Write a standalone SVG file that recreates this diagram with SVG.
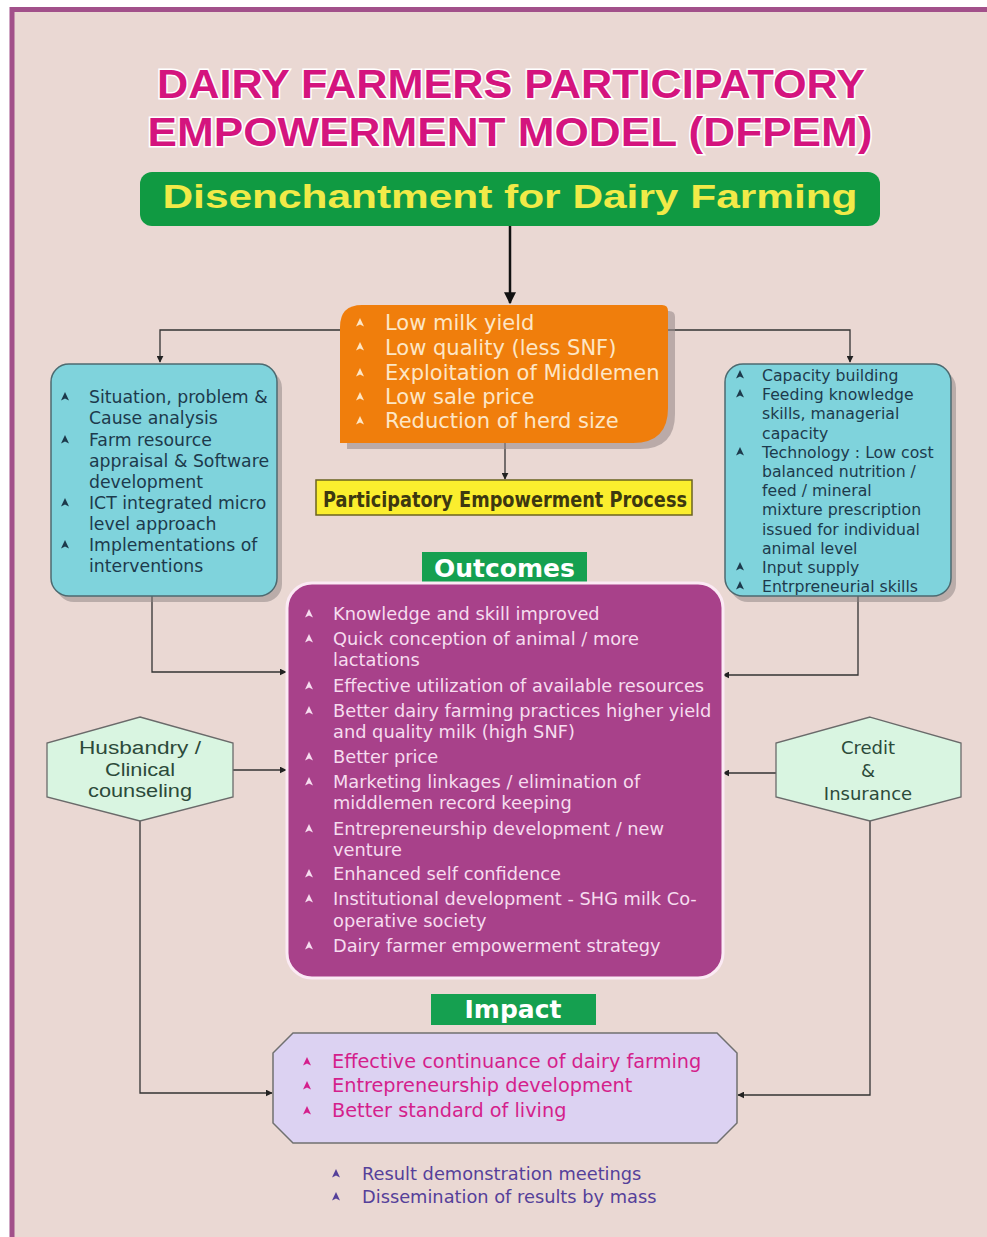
<svg xmlns="http://www.w3.org/2000/svg" xmlns:xlink="http://www.w3.org/1999/xlink" width="987" height="1237" viewBox="0 0 987 1237">
<defs>
<style>
.t{font-family:"DejaVu Sans","Liberation Sans",sans-serif}
.title{font-family:"Liberation Sans",Arial,sans-serif;font-weight:bold;font-size:41px;fill:#d4147e;stroke:#fff;stroke-width:3;paint-order:stroke;text-anchor:middle}
.or{font-size:21px;fill:#fde6c6}
.cl{font-size:17.3px;fill:#1d3a4c}
.cr{font-size:15.7px;fill:#1d3a4c}
.pu{font-size:17.8px;fill:#f6dcef}
.im{font-size:19.3px;fill:#d41f8c}
.bt{font-size:17.8px;fill:#55409a}
.hx{font-size:18px;fill:#2c4a3a;text-anchor:middle}
.lab{font-weight:bold;font-size:25px;fill:#fff;text-anchor:middle}
.con{fill:none;stroke:#333;stroke-width:1.3}
</style>
<path id="bul" d="M0,-5 L4,3.4 L0,1.6 L-4,3.4 Z"/>
<marker id="ah" viewBox="0 0 10 10" refX="9" refY="5" markerWidth="7" markerHeight="7" orient="auto" markerUnits="userSpaceOnUse"><path d="M0,0 L10,5 L0,10 Z" fill="#222"/></marker>
<marker id="ahb" viewBox="0 0 10 10" refX="9" refY="5" markerWidth="12" markerHeight="12" orient="auto" markerUnits="userSpaceOnUse"><path d="M0,0 L10,5 L0,10 Z" fill="#111"/></marker>
</defs>
<rect width="987" height="1237" fill="#fff"/>
<rect x="12" y="9.5" width="1000" height="1250" fill="#ead8d3" stroke="#a2508a" stroke-width="5"/>

<g id="title">
<text class="title" x="511" y="98" textLength="708" lengthAdjust="spacingAndGlyphs">DAIRY FARMERS PARTICIPATORY</text>
<text class="title" x="510" y="146" textLength="725" lengthAdjust="spacingAndGlyphs">EMPOWERMENT MODEL (DFPEM)</text>
</g>

<g id="connectors">
<line x1="510" y1="226" x2="510" y2="303" stroke="#111" stroke-width="2.5" marker-end="url(#ahb)"/>
<polyline class="con" points="341,330 160,330 160,362" marker-end="url(#ah)"/>
<polyline class="con" points="668,330 850,330 850,362" marker-end="url(#ah)"/>
<line class="con" x1="505" y1="443" x2="505" y2="479" marker-end="url(#ah)"/>
<polyline class="con" points="152,596 152,672 286,672" marker-end="url(#ah)"/>
<polyline class="con" points="858,596 858,675 723,675" marker-end="url(#ah)"/>
<line class="con" x1="233" y1="770" x2="286" y2="770" marker-end="url(#ah)"/>
<line class="con" x1="776" y1="773" x2="723" y2="773" marker-end="url(#ah)"/>
<polyline class="con" points="140,820 140,1093 272,1093" marker-end="url(#ah)"/>
<polyline class="con" points="870,820 870,1095 738,1095" marker-end="url(#ah)"/>
</g>

<g id="disenchantment">
<rect x="140" y="172" width="740" height="54" rx="12" fill="#109a42"/>
<text x="510" y="208" font-family="Liberation Sans,Arial,sans-serif" font-weight="bold" font-size="34" fill="#f1ea48" text-anchor="middle" textLength="695" lengthAdjust="spacingAndGlyphs">Disenchantment for Dairy Farming</text>
</g>

<g id="problems" class="t">
<path d="M347,449 L347,333 Q347,311 369,311 L669,311 Q675,311 675,317 L675,414 Q675,449 640,449 Z" fill="#9a8c8c" opacity="0.6"/>
<path d="M340,443 L340,327 Q340,305 362,305 L662,305 Q668,305 668,311 L668,408 Q668,443 633,443 Z" fill="#f07e0c"/>
<g fill="#fde6c6"><use href="#bul" x="360" y="323"/><use href="#bul" x="360" y="347"/><use href="#bul" x="360" y="373"/><use href="#bul" x="360" y="397"/><use href="#bul" x="360" y="421"/></g>
<text class="or" x="385" y="330">Low milk yield</text>
<text class="or" x="385" y="355">Low quality (less SNF)</text>
<text class="or" x="385" y="380">Exploitation of Middlemen</text>
<text class="or" x="385" y="404">Low sale price</text>
<text class="or" x="385" y="428">Reduction of herd size</text>
</g>

<g id="process">
<rect x="316" y="480" width="376" height="35" fill="#fbee2e" stroke="#6b6320" stroke-width="1.5"/>
<text x="505" y="507" font-family="DejaVu Sans Condensed,Liberation Sans,sans-serif" font-weight="bold" font-size="22" fill="#3d3810" text-anchor="middle" textLength="364" lengthAdjust="spacingAndGlyphs">Participatory Empowerment Process</text>
</g>

<g id="left-box" class="t">
<rect x="56" y="370" width="226" height="232" rx="18" fill="#8a8080" opacity="0.5"/>
<rect x="51" y="364" width="226" height="232" rx="18" fill="#7fd3dc" stroke="#4d6a70" stroke-width="1.5"/>
<g fill="#1d3a4c"><use href="#bul" x="65" y="397"/><use href="#bul" x="65" y="440"/><use href="#bul" x="65" y="503"/><use href="#bul" x="65" y="545"/></g>
<text class="cl" x="89" y="403">Situation, problem &amp;</text>
<text class="cl" x="89" y="424">Cause analysis</text>
<text class="cl" x="89" y="446">Farm resource</text>
<text class="cl" x="89" y="467">appraisal &amp; Software</text>
<text class="cl" x="89" y="488">development</text>
<text class="cl" x="89" y="509">ICT integrated micro</text>
<text class="cl" x="89" y="530">level approach</text>
<text class="cl" x="89" y="551">Implementations of</text>
<text class="cl" x="89" y="572">interventions</text>
</g>

<g id="right-box" class="t">
<rect x="730" y="370" width="226" height="232" rx="18" fill="#8a8080" opacity="0.5"/>
<rect x="725" y="364" width="226" height="232" rx="18" fill="#7fd3dc" stroke="#4d6a70" stroke-width="1.5"/>
<g fill="#1d3a4c"><use href="#bul" x="740" y="375"/><use href="#bul" x="740" y="394"/><use href="#bul" x="740" y="452"/><use href="#bul" x="740" y="567"/><use href="#bul" x="740" y="586"/></g>
<text class="cr" x="762" y="381">Capacity building</text>
<text class="cr" x="762" y="400.2">Feeding knowledge</text>
<text class="cr" x="762" y="419.4">skills, managerial</text>
<text class="cr" x="762" y="438.6">capacity</text>
<text class="cr" x="762" y="457.8">Technology : Low cost</text>
<text class="cr" x="762" y="477">balanced nutrition /</text>
<text class="cr" x="762" y="496.2">feed / mineral</text>
<text class="cr" x="762" y="515.4">mixture prescription</text>
<text class="cr" x="762" y="534.6">issued for individual</text>
<text class="cr" x="762" y="553.8">animal level</text>
<text class="cr" x="762" y="573">Input supply</text>
<text class="cr" x="762" y="592.2">Entrpreneurial skills</text>
</g>

<g id="outcomes-label" class="t">
<rect x="422" y="552" width="165" height="30" fill="#15a050"/>
<text class="lab" x="504.5" y="577">Outcomes</text>
</g>

<g id="outcomes" class="t">
<rect x="287" y="583" width="436" height="395" rx="25" fill="#a8418a" stroke="#fbeaf4" stroke-width="3"/>
<g fill="#f6dcef"><use href="#bul" x="309" y="614"/><use href="#bul" x="309" y="639"/><use href="#bul" x="309" y="686"/><use href="#bul" x="309" y="711"/><use href="#bul" x="309" y="757"/><use href="#bul" x="309" y="782"/><use href="#bul" x="309" y="829"/><use href="#bul" x="309" y="874"/><use href="#bul" x="309" y="899"/><use href="#bul" x="309" y="946"/></g>
<text class="pu" x="333" y="620">Knowledge and skill improved</text>
<text class="pu" x="333" y="645">Quick conception of animal / more</text>
<text class="pu" x="333" y="666">lactations</text>
<text class="pu" x="333" y="692">Effective utilization of available resources</text>
<text class="pu" x="333" y="717">Better dairy farming practices higher yield</text>
<text class="pu" x="333" y="738">and quality milk (high SNF)</text>
<text class="pu" x="333" y="763">Better price</text>
<text class="pu" x="333" y="788">Marketing linkages / elimination of</text>
<text class="pu" x="333" y="809">middlemen record keeping</text>
<text class="pu" x="333" y="835">Entrepreneurship development / new</text>
<text class="pu" x="333" y="856">venture</text>
<text class="pu" x="333" y="880">Enhanced self  confidence</text>
<text class="pu" x="333" y="905">Institutional development - SHG milk Co-</text>
<text class="pu" x="333" y="927">operative society</text>
<text class="pu" x="333" y="952">Dairy farmer empowerment strategy</text>
</g>

<g id="husbandry">
<polygon points="140,717 233,743 233,797 140,821 47,797 47,743" fill="#d9f5e1" stroke="#6a6a6a" stroke-width="1.3"/>
<text class="hx" font-family="Liberation Sans,Arial,sans-serif" x="140" y="754" textLength="122" lengthAdjust="spacingAndGlyphs">Husbandry /</text>
<text class="hx" font-family="Liberation Sans,Arial,sans-serif" x="140" y="776" textLength="70" lengthAdjust="spacingAndGlyphs">Clinical</text>
<text class="hx" font-family="Liberation Sans,Arial,sans-serif" x="140" y="797" textLength="104" lengthAdjust="spacingAndGlyphs">counseling</text>
</g>

<g id="credit" class="t">
<polygon points="870,717 961,743 961,797 870,821 776,797 776,743" fill="#d9f5e1" stroke="#6a6a6a" stroke-width="1.3"/>
<text class="hx" x="868" y="754">Credit</text>
<text class="hx" x="868" y="777">&amp;</text>
<text class="hx" x="868" y="800">Insurance</text>
</g>

<g id="impact-label" class="t">
<rect x="431" y="994" width="165" height="31" fill="#15a050"/>
<text class="lab" x="513" y="1018">Impact</text>
</g>

<g id="impact" class="t">
<polygon points="293,1033 717,1033 737,1053 737,1123 717,1143 293,1143 273,1123 273,1053" fill="#dcd2f2" stroke="#707070" stroke-width="1.5"/>
<g fill="#d41f8c"><use href="#bul" x="307" y="1062"/><use href="#bul" x="307" y="1086"/><use href="#bul" x="307" y="1111"/></g>
<text class="im" x="332" y="1068">Effective continuance of dairy farming</text>
<text class="im" x="332" y="1092">Entrepreneurship development</text>
<text class="im" x="332" y="1117">Better standard of living</text>
</g>

<g id="dissemination" class="t">
<g fill="#55409a"><use href="#bul" x="336" y="1174"/><use href="#bul" x="336" y="1197"/></g>
<text class="bt" x="362" y="1180">Result demonstration meetings</text>
<text class="bt" x="362" y="1203">Dissemination of results by mass</text>
</g>
</svg>
